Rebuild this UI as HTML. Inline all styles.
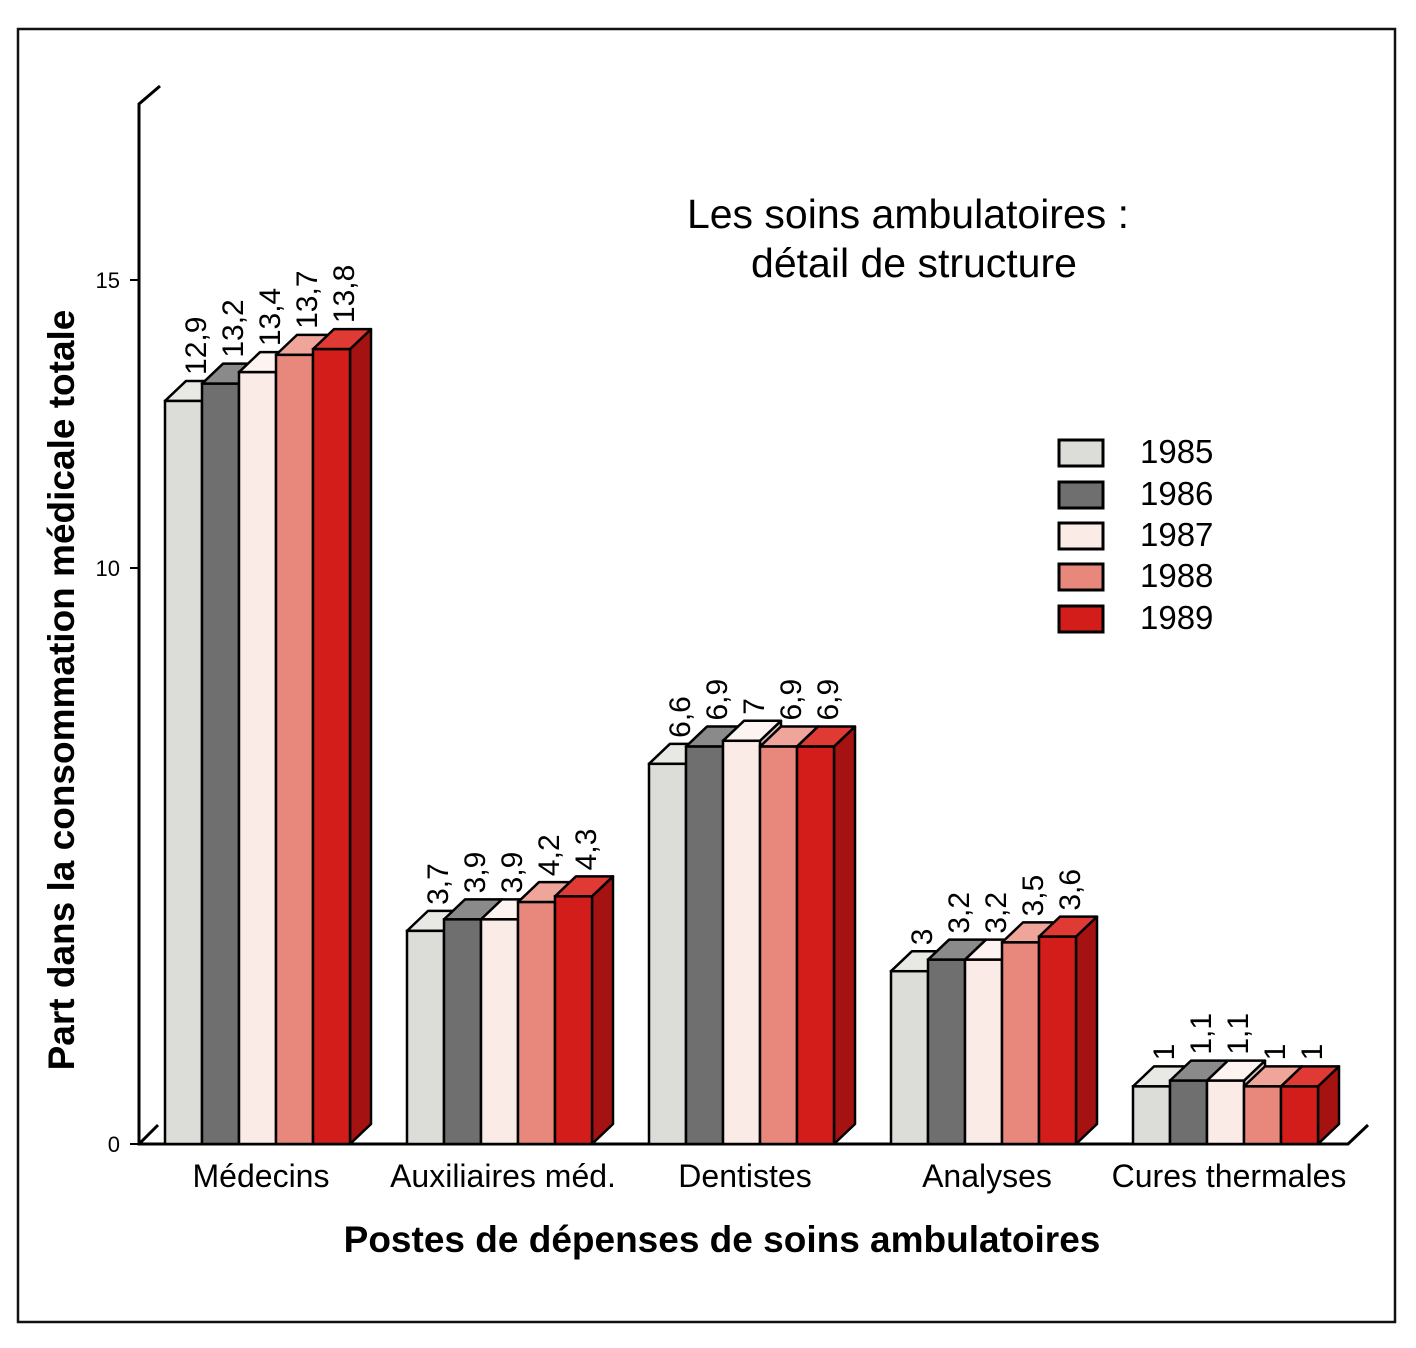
<!DOCTYPE html>
<html><head><meta charset="utf-8"><style>
body{margin:0;background:#fff}
svg{display:block;font-family:"Liberation Sans",sans-serif}
</style></head><body>
<svg id="c" width="1416" height="1348" viewBox="0 0 1416 1348">
<rect x="18" y="29" width="1377" height="1293" fill="#fff" stroke="#111" stroke-width="2.5"/>
<text x="908" y="228" font-size="41" text-anchor="middle">Les soins ambulatoires :</text>
<text x="914" y="277" font-size="41" text-anchor="middle">détail de structure</text>
<text transform="translate(74,690) rotate(-90)" font-size="37" font-weight="bold" text-anchor="middle">Part dans la consommation médicale totale</text>
<text x="722" y="1252" font-size="37" font-weight="bold" text-anchor="middle">Postes de dépenses de soins ambulatoires</text>
<g id="axes"></g><g id="bars"></g><g id="legend"></g>
</svg>
<script>
const categories=["Médecins","Auxiliaires méd.","Dentistes","Analyses","Cures thermales"];
const years=["1985","1986","1987","1988","1989"];
const v1985=[12.9,3.7,6.6,3,1];
const v1986=[13.2,3.9,6.9,3.2,1.1];
const v1987=[13.4,3.9,7,3.2,1.1];
const v1988=[13.7,4.2,6.9,3.5,1];
const v1989=[13.8,4.3,6.9,3.6,1];
const labels1985=["12,9","3,7","6,6","3","1"];
const labels1986=["13,2","3,9","6,9","3,2","1,1"];
const labels1987=["13,4","3,9","7","3,2","1,1"];
const labels1988=["13,7","4,2","6,9","3,5","1"];
const labels1989=["13,8","4,3","6,9","3,6","1"];
const yTicks=[0,10,15];
const series=[v1985,v1986,v1987,v1988,v1989];
const seriesLabels=[labels1985,labels1986,labels1987,labels1988,labels1989];
const fronts=["#dcdcd8","#6f6f6f","#fbebe6","#e8887d","#d21d1b"];
const sides=["#b8b8b4","#4a4a4a","#e0c8c2","#c2615a","#a51212"];
const tops=["#e8e8e4","#8a8a8a","#fdf4f1","#f0a59b","#e03a34"];
const NS="http://www.w3.org/2000/svg";
const y0=1144, ppu=57.6;
const y=v=>y0-v*ppu;
const gx=i=>165+i*242;
const bw=37, dx=21, dy=20;
function mk(tag,attrs,parent){const e=document.createElementNS(NS,tag);for(const k in attrs)e.setAttribute(k,attrs[k]);parent.appendChild(e);return e;}
const axes=document.getElementById('axes');
let e=mk('path',{d:`M160 86 L139 104 L139 ${y0} L1348 ${y0} L1368 1125 M139 ${y0} L158 1125`,fill:'none',stroke:'#000','stroke-width':3},axes);

yTicks.forEach(t=>{const tx=mk('text',{x:120,y:y(t)+8,'font-size':22,'text-anchor':'end'},axes);tx.textContent=t;

const l=mk('line',{x1:130,x2:139,y1:y(t),y2:y(t),stroke:'#000','stroke-width':2},axes);
});
const bars=document.getElementById('bars');
categories.forEach((c,i)=>{
 const t=mk('text',{x:gx(i)+96,y:1187,'font-size':32,'text-anchor':'middle'},bars);t.textContent=c;
 
 series.forEach((s,j)=>{
  const x=gx(i)+j*bw, yt=y(s[i]);
  const g=mk('g',{},bars);
  
  mk('polygon',{points:`${x+bw},${yt} ${x+bw+dx},${yt-dy} ${x+bw+dx},${y0-dy} ${x+bw},${y0}`,fill:sides[j],stroke:'#000','stroke-width':2.5,'stroke-linejoin':'round'},g);
  mk('polygon',{points:`${x},${yt} ${x+dx},${yt-dy} ${x+bw+dx},${yt-dy} ${x+bw},${yt}`,fill:tops[j],stroke:'#000','stroke-width':2.5,'stroke-linejoin':'round'},g);
  mk('rect',{x:x,y:yt,width:bw,height:y0-yt,fill:fronts[j],stroke:'#000','stroke-width':2.5},g);
  const lx=x+bw/2+dx/2+12, ly=yt-dy-6;
  const lt=mk('text',{transform:`translate(${lx},${ly}) rotate(-90)`,'font-size':30},bars);
  lt.textContent=seriesLabels[j][i];
  
 });
});
const leg=document.getElementById('legend');
years.forEach((yr,j)=>{
 const yy=[440,482,523,564,606][j];
 const r=mk('rect',{x:1059,y:yy,width:44,height:26,fill:fronts[j],stroke:'#000','stroke-width':3},leg);
 
 const t=mk('text',{x:1140,y:yy+23,'font-size':33},leg);t.textContent=yr;
 
});
</script>
</body></html>
